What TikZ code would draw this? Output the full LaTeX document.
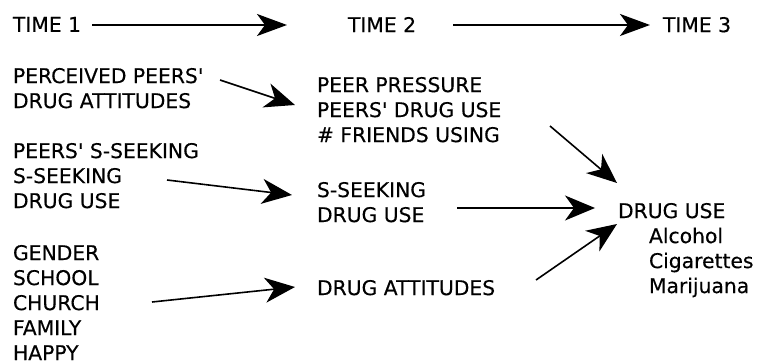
\documentclass[tikz,border=0pt]{standalone}
\usepackage{fontspec}
\setmainfont{DejaVu Sans}[FakeBold=0.3]
\usetikzlibrary{arrows.meta,calc}
\newcommand{\myapos}{\textquotesingle}
\begin{document}
\begin{tikzpicture}[x=1pt,y=-1pt,
  lbl/.style={anchor=north west, inner sep=0pt, outer sep=0pt, align=left,
              font=\fontsize{20.3pt}{25pt}\selectfont},
  arr/.style={line width=1.6pt, -{Stealth[length=30pt,width=25pt,inset=9pt]}},
  tarr/.style={line width=2pt, -{Stealth[length=30pt,width=22pt,inset=8pt]}}]
\useasboundingbox[fill=white] (0,0) rectangle (760,363);
% time line
\node[lbl] (t1) at (13,17) {TIME 1};
\node[lbl] (t2) at (348,17) {TIME 2};
\node[lbl] (t3) at (663,17) {TIME 3};
% time 1 variables
\node[lbl] (perc) at (13,68) {PERCEIVED PEERS\myapos\\DRUG ATTITUDES};
\node[lbl] (pss) at (13,143) {PEERS\myapos{} S-SEEKING\\S-SEEKING\\DRUG USE};
\node[lbl] (gen) at (13,245) {GENDER\\SCHOOL\\CHURCH\\FAMILY\\HAPPY};
% time 2 variables
\node[lbl] (peer) at (317,77) {PEER PRESSURE\\PEERS\myapos{} DRUG USE\\\# FRIENDS USING};
\node[lbl] (ss) at (317,182) {S-SEEKING\\DRUG USE};
\node[lbl] (att) at (317,280) {DRUG ATTITUDES};
% time 3
\node[lbl] (du) at (618,203) {DRUG USE\\\hspace*{31pt}Alcohol\\\hspace*{31pt}Cigarettes\\\hspace*{31pt}Marijuana};
% arrows
\draw[tarr] ($(t1.north west)+(79,8)$) -- ($(t2.north west)+(-61,8)$);
\draw[tarr] ($(t2.north west)+(105,8)$) -- ($(t3.north west)+(-13,8)$);
\draw[arr] ($(perc.north west)+(207,12)$) -- ($(peer.north west)+(-22,28)$);
\draw[arr] ($(peer.north west)+(233,49)$) -- ($(du.north west)+(-1,-20)$);
\draw[arr] ($(pss.north west)+(154,37)$) -- ($(ss.north west)+(-25,13)$);
\draw[arr] ($(ss.north west)+(140,26)$) -- ($(du.north west)+(-23,5)$);
\draw[arr] ($(gen.north west)+(139,57)$) -- ($(att.north west)+(-22,7)$);
\draw[arr] ($(att.north west)+(219,0)$) -- ($(du.north west)+(-1,21)$);
\end{tikzpicture}
\end{document}
